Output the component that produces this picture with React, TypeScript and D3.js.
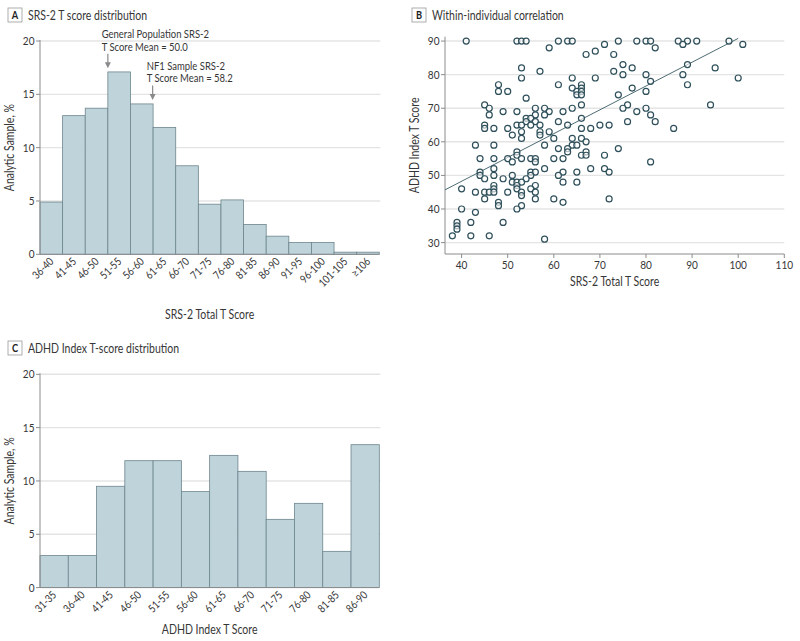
import React from "react";
import * as d3 from "d3";

// ---------- DATA ----------
const srsBins = ["36-40","41-45","46-50","51-55","56-60","61-65","66-70","71-75","76-80","81-85","86-90","91-95","96-100","101-105","≥106"];
const srsPct = [4.9,13.0,13.7,17.1,14.1,11.9,8.3,4.7,5.1,2.8,1.7,1.1,1.1,0.2,0.2];

const adhdBins = ["31-35","36-40","41-45","46-50","51-55","56-60","61-65","66-70","71-75","76-80","81-85","86-90"];
const adhdPct = [3.0,3.0,9.5,11.9,11.9,9.0,12.4,10.9,6.4,7.9,3.4,13.4];

const histTicks = [0,5,10,15,20];
const scatterXTicks = [40,50,60,70,80,90,100,110];
const scatterYTicks = [30,40,50,60,70,80,90];

// scatter points [SRS-2 total T score, ADHD index T score]
const scatterSRS = [
  41,52,53,54,61,63,64,74,78,80,81,87,89,91,98,
  71,88,101,59,82,69,67,73,75,89,53,77,95,57,73,75,80,88,
  53,64,69,100,81,48,61,66,89,64,66,77,48,50,65,66,80,65,66,74,54,
  45,66,76,94,46,56,58,64,75,80,49,52,59,62,78,46,56,58,81,54,55,66,
  54,56,61,76,82,45,52,53,55,57,63,70,72,45,47,50,66,68,86,53,57,59,51,57,
  53,60,64,66,67,43,47,58,64,65,61,63,74,52,63,67,52,66,67,71,
  44,47,50,53,55,56,60,62,51,56,81,47,58,68,71,44,55,56,62,65,72,
  44,47,51,55,61,45,49,54,51,52,53,62,65,47,52,56,40,47,52,55,
  43,45,46,47,50,53,56,53,45,56,60,72,48,62,48,53,40,52,43,39,42,49,39,39,38,42,46,58
];
const scatterADHD = [
  90,90,90,90,90,90,90,90,90,90,90,90,90,90,90,
  89,89,89,88,88,87,86,86,83,83,82,82,82,81,81,80,80,80,
  79,79,79,79,78,77,77,77,77,76,76,76,75,75,75,75,75,74,74,74,73,
  71,71,71,71,70,70,70,70,70,70,69,69,69,69,69,68,68,68,68,67,67,67,
  66,66,66,66,66,65,65,65,65,65,65,65,65,64,64,64,64,64,64,63,63,63,62,62,
  61,61,61,61,60,59,59,59,59,59,58,58,58,57,57,57,56,56,56,56,
  55,55,55,55,55,55,55,55,54,54,54,52,52,52,52,51,51,51,51,51,51,
  50,50,50,50,50,49,49,49,48,48,48,48,48,47,47,47,46,46,46,46,
  45,45,45,45,45,45,45,44,43,43,43,43,42,42,41,41,40,40,39,36,36,36,35,34,32,32,32,31
];
const regSRS = [36.4, 100];
const regADHD = [45.7, 90.8];

const annGeneral = { value: 50.5, lines: ["General Population SRS-2", "T Score Mean = 50.0"] };
const annNF1 = { value: 60.4, lines: ["NF1 Sample SRS-2", "T Score Mean = 58.2"] };

// ---------- STYLE ----------
const FONT = "Lato, 'Noto Sans', sans-serif";
const SX = 0.84; // horizontal condensation to mimic the narrow original face
const TXT = "#363636";
const AXIS = "#8c8c8c";
const GRID = "#e4e4e4";
const BAR_FILL = "#bfd3da";
const BAR_STROKE = "#6d858d";
const DOT = "#2f505b";

function T({ x, y, size, anchor = "start", rotate = 0, weight = 400, fill = TXT, children }:
  { x: number; y: number; size: number; anchor?: string; rotate?: number; weight?: number; fill?: string; children: React.ReactNode }) {
  return (
    <g transform={`translate(${x},${y})${rotate ? ` rotate(${rotate})` : ""} scale(${SX},1)`}>
      <text x={0} y={0} textAnchor={anchor as any} fontFamily={FONT} fontSize={size} fontWeight={weight} fill={fill}>{children}</text>
    </g>
  );
}

function PanelHeader({ x, y, letter, title }: { x: number; y: number; letter: string; title: string }) {
  return (
    <g>
      <rect x={x} y={y} width={14} height={14} fill="white" stroke="#9a9a9a" strokeWidth={0.8} />
      <T x={x + 7} y={y + 11} anchor="middle" weight={700} size={11} fill="#222">{letter}</T>
      <T x={x + 20} y={y + 11.5} size={12.5}>{title}</T>
    </g>
  );
}

function Histogram({ top, bins, values, xTitle, titleOffset }: { top: number; bins: string[]; values: number[]; xTitle: string; titleOffset: number }) {
  const left = 40, right = 379.3;
  const y0 = top + 213.3, y20 = top;
  const x = d3.scaleBand<string>().domain(bins).range([left, right]).padding(0);
  const y = d3.scaleLinear().domain([0, 20]).range([y0, y20]);
  return (
    <g>
      {histTicks.filter(t => t > 0).map(t => (
        <line key={t} x1={left} x2={right + 1} y1={y(t)} y2={y(t)} stroke={GRID} strokeWidth={1.4} />
      ))}
      {bins.map((b, i) => (
        <rect key={b} x={x(b)!} y={y(values[i])} width={x.bandwidth()} height={y0 - y(values[i])}
          fill={BAR_FILL} stroke={BAR_STROKE} strokeWidth={0.8} />
      ))}
      <line x1={left} x2={left} y1={y20 - 1} y2={y0} stroke={AXIS} strokeWidth={1} />
      <line x1={left} x2={right} y1={y0} y2={y0} stroke={AXIS} strokeWidth={1} />
      {histTicks.map(t => (
        <g key={t}>
          <line x1={left - 4} x2={left} y1={y(t)} y2={y(t)} stroke={AXIS} />
          <T x={left - 5.5} y={y(t) + 4} anchor="end" size={12}>{t}</T>
        </g>
      ))}
      {bins.map(b => {
        const cx = x(b)! + x.bandwidth() / 2;
        return (
          <T key={b} x={cx + 3} y={y0 + 8} rotate={-45} anchor="end" size={11}>{b}</T>
        );
      })}
      <T x={14} y={(y0 + y20) / 2} rotate={-90} anchor="middle" size={12.5}>Analytic Sample, %</T>
      <T x={(left + right) / 2} y={y0 + titleOffset} anchor="middle" size={12.5}>{xTitle}</T>
    </g>
  );
}

function Arrow({ x, y1, y2 }: { x: number; y1: number; y2: number }) {
  return (
    <g>
      <line x1={x} x2={x} y1={y1} y2={y2 - 5} stroke="#8a8a8a" strokeWidth={1.2} />
      <path d={`M${x - 3},${y2 - 6} L${x + 3},${y2 - 6} L${x},${y2} Z`} fill="#8a8a8a" />
    </g>
  );
}

function Scatter() {
  const left = 445, right = 784.3, bottom = 254, topY = 36.7;
  const x = d3.scaleLinear().domain([36.4, 110]).range([left, right]);
  const y = d3.scaleLinear().domain([26.6, 91.3]).range([bottom, topY]);
  const pts = scatterSRS.map((s, i) => [s, scatterADHD[i]] as [number, number]);
  const line = d3.line<number>().x((_, i) => x(regSRS[i])).y(d => y(d));
  return (
    <g>
      {scatterYTicks.map(t => (
        <line key={t} x1={left} x2={right} y1={y(t)} y2={y(t)} stroke={GRID} strokeWidth={1.4} />
      ))}
      <line x1={left} x2={left} y1={topY} y2={bottom} stroke={AXIS} />
      <line x1={left} x2={right} y1={bottom} y2={bottom} stroke={AXIS} />
      {scatterYTicks.map(t => (
        <g key={t}>
          <line x1={left - 4} x2={left} y1={y(t)} y2={y(t)} stroke={AXIS} />
          <T x={left - 5.5} y={y(t) + 4} anchor="end" size={12}>{t}</T>
        </g>
      ))}
      {scatterXTicks.map(t => (
        <g key={t}>
          <line x1={x(t)} x2={x(t)} y1={bottom} y2={bottom + 4} stroke={AXIS} />
          <T x={x(t)} y={bottom + 14.5} anchor="middle" size={12}>{t}</T>
        </g>
      ))}
      <path d={line(regADHD) || ""} fill="none" stroke="#4d6b74" strokeWidth={1} />
      {pts.map((p, i) => (
        <circle key={i} cx={x(p[0])} cy={y(p[1])} r={3} fill="white" fillOpacity={0.6} stroke={DOT} strokeWidth={1.2} />
      ))}
      <T x={419} y={(bottom + topY) / 2} rotate={-90} anchor="middle" size={12.5}>ADHD Index T Score</T>
      <T x={(left + right) / 2} y={bottom + 32} anchor="middle" size={12.5}>SRS-2 Total T Score</T>
    </g>
  );
}

export default function App() {
  const xA = d3.scaleLinear().domain([35.5, 110.5]).range([40, 379.3]);
  return (
    <svg width={800} height={641} style={{ position: "absolute", left: 0, top: 0, background: "white" }}>
      <rect width={800} height={641} fill="white" />
      <PanelHeader x={8} y={8} letter="A" title="SRS-2 T score distribution" />
      <PanelHeader x={412} y={8} letter="B" title="Within-individual correlation" />
      <PanelHeader x={8} y={341} letter="C" title="ADHD Index T-score distribution" />
      <Histogram top={41} bins={srsBins} values={srsPct} xTitle="SRS-2 Total T Score" titleOffset={65} />
      <Histogram top={374.3} bins={adhdBins} values={adhdPct} xTitle="ADHD Index T Score" titleOffset={46} />
      {[annGeneral, annNF1].map((a, k) => {
        const ax = xA(a.value);
        const tx = k === 0 ? 101.7 : 146.7;
        const ty = k === 0 ? 38.3 : 70;
        return (
          <g key={k}>
            {a.lines.map((l, j) => (
              <T key={j} x={tx} y={ty + j * 12.3} size={11.3}>{l}</T>
            ))}
            <Arrow x={ax} y1={ty + 15.5} y2={ty + 30} />
          </g>
        );
      })}
      <Scatter />
    </svg>
  );
}
